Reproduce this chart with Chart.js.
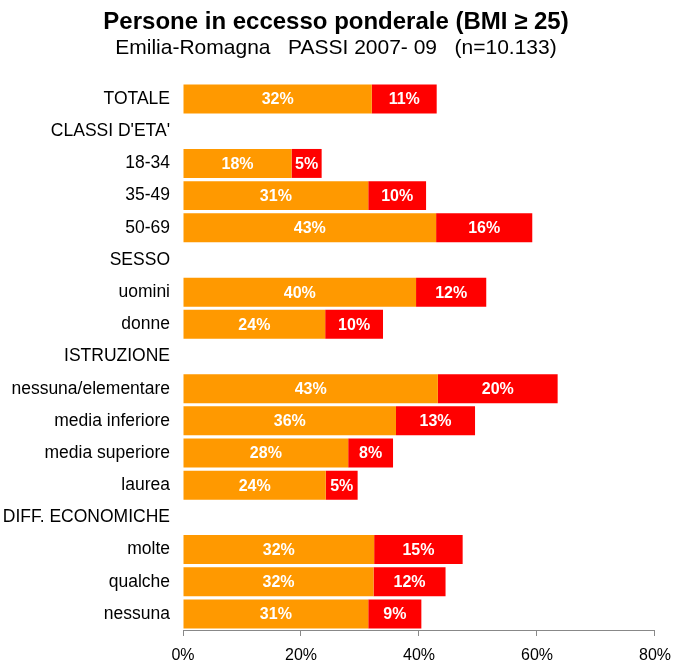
<!DOCTYPE html>
<html>
<head>
<meta charset="utf-8">
<script src="https://cdn.jsdelivr.net/npm/chart.js@4/dist/chart.umd.min.js"></script>
<style>
html,body{margin:0;padding:0;background:#fff;}
#wrap{width:674px;height:662px;}
</style>
</head>
<body>
<div id="wrap"><canvas id="c" width="674" height="662"></canvas></div>
<script>
const categories = ["TOTALE","CLASSI D'ETA'","18-34","35-49","50-69","SESSO","uomini","donne","ISTRUZIONE","nessuna/elementare","media inferiore","media superiore","laurea","DIFF. ECONOMICHE","molte","qualche","nessuna"];
const sovrappeso = [32.0,null,18.4,31.4,42.9,null,39.5,24.1,null,43.2,36.1,28.0,24.2,null,32.4,32.3,31.4];
const obesi      = [11.0,null,5.1,9.8,16.3,null,11.9,9.8,null,20.3,13.4,7.6,5.4,null,15.0,12.2,9.0];
const xTicks = [0,20,40,60,80];

const FONT = '"Liberation Sans", Arial, sans-serif';

const labelPlugin = {
  id:'barLabels',
  afterDatasetsDraw(chart){
    const ctx = chart.ctx;
    ctx.save();
    ctx.fillStyle = '#ffffff';
    ctx.font = 'bold 16px ' + FONT;
    ctx.textAlign = 'center';
    ctx.textBaseline = 'middle';
    chart.data.datasets.forEach((ds, di) => {
      const meta = chart.getDatasetMeta(di);
      meta.data.forEach((bar, i) => {
        const v = ds.data[i];
        if (v === null || v === undefined) return;
        const cx = (bar.x + bar.base) / 2;
        ctx.fillText(Math.round(v) + '%', cx, bar.y + 1);
      });
    });
    ctx.restore();
  }
};

new Chart(document.getElementById('c'), {
  type: 'bar',
  data: {
    labels: categories,
    datasets: [
      {label:'sovrappeso', data: sovrappeso, backgroundColor:'#FF9900', borderWidth:0},
      {label:'obesi', data: obesi, backgroundColor:'#FF0000', borderWidth:0}
    ]
  },
  options: {
    indexAxis: 'y',
    responsive: false,
    animation: false,
    layout: {padding: {left: 0, right: 2, top: 8, bottom: -14}},
    plugins: {
      legend: {display: false},
      tooltip: {enabled: false},
      title: {
        display: true,
        text: 'Persone in eccesso ponderale (BMI \u2265 25)',
        color: '#000',
        font: {family: FONT, size: 24, weight: 'bold'},
        padding: {top: 0, bottom: -1}
      },
      subtitle: {
        display: true,
        text: 'Emilia-Romagna   PASSI 2007- 09   (n=10.133)',
        color: '#000',
        font: {family: FONT, size: 21},
        padding: {top: 0, bottom: 22}
      }
    },
    datasets: {bar: {barPercentage: 0.9, categoryPercentage: 1.0}},
    scales: {
      x: {
        stacked: true,
        min: 0, max: 80,
        afterBuildTicks(axis){ axis.ticks = xTicks.map(v => ({value: v})); },
        ticks: {
          color: '#000',
          font: {family: FONT, size: 16, lineHeight: 2.125},
          padding: 3,
          callback: v => v + '%'
        },
        grid: {drawOnChartArea: false, drawTicks: true, tickLength: 6, color: '#888'},
        border: {display: true, color: '#888', width: 1}
      },
      y: {
        stacked: true,
        ticks: {
          color: '#000',
          font: {family: FONT, size: 17.5},
          padding: 13,
          autoSkip: false
        },
        grid: {display: false, drawTicks: false},
        border: {display: false},
        afterFit(axis){ axis.width = 183; }
      }
    }
  },
  plugins: [labelPlugin]
});
</script>
</body>
</html>
